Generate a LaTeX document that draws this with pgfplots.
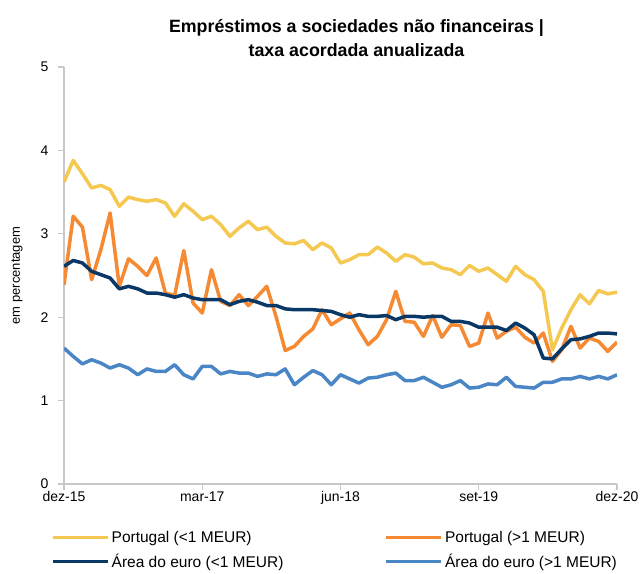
\documentclass[border=0pt]{standalone}
\usepackage{fontspec}
\setmainfont{Liberation Sans}
\usepackage{pgfplots}
\pgfplotsset{compat=1.18}
\definecolor{ptsmall}{HTML}{F5C851}
\definecolor{ptlarge}{HTML}{F58A33}
\definecolor{eusmall}{HTML}{0A3866}
\definecolor{eularge}{HTML}{4A86C5}
\definecolor{axgray}{HTML}{C8C8C8}

% x = months since dez-15
\pgfplotstableread{
x ptA ptB euA euB
0 3.62 2.39 2.61 1.63
1 3.88 3.21 2.68 1.53
2 3.72 3.08 2.65 1.44
3 3.55 2.45 2.55 1.49
4 3.58 2.81 2.51 1.45
5 3.53 3.25 2.47 1.39
6 3.33 2.37 2.34 1.43
7 3.44 2.70 2.37 1.39
8 3.41 2.61 2.34 1.31
9 3.39 2.50 2.29 1.38
10 3.41 2.71 2.29 1.35
11 3.37 2.29 2.27 1.35
12 3.21 2.26 2.24 1.43
13 3.36 2.80 2.27 1.31
14 3.27 2.17 2.23 1.26
15 3.17 2.05 2.21 1.41
16 3.21 2.57 2.21 1.41
17 3.11 2.19 2.21 1.32
18 2.97 2.14 2.15 1.35
19 3.07 2.27 2.19 1.33
20 3.15 2.14 2.21 1.33
21 3.05 2.25 2.18 1.29
22 3.08 2.37 2.14 1.32
23 2.97 2.01 2.14 1.31
24 2.89 1.60 2.10 1.38
25 2.88 1.65 2.09 1.19
26 2.92 1.77 2.09 1.28
27 2.81 1.86 2.09 1.36
28 2.89 2.09 2.08 1.31
29 2.83 1.91 2.07 1.19
30 2.65 1.98 2.03 1.31
31 2.69 2.05 2.00 1.26
32 2.75 1.85 2.03 1.21
33 2.75 1.67 2.01 1.27
34 2.84 1.77 2.01 1.28
35 2.77 1.97 2.02 1.31
36 2.67 2.31 1.97 1.33
37 2.75 1.95 2.01 1.24
38 2.72 1.94 2.01 1.24
39 2.64 1.77 2.00 1.28
40 2.65 2.02 2.01 1.22
41 2.59 1.76 2.01 1.16
42 2.57 1.91 1.95 1.19
43 2.51 1.90 1.95 1.24
44 2.62 1.65 1.93 1.15
45 2.55 1.69 1.88 1.16
46 2.59 2.05 1.88 1.20
47 2.51 1.75 1.88 1.19
48 2.43 1.83 1.84 1.28
49 2.61 1.88 1.93 1.17
50 2.51 1.76 1.87 1.16
51 2.45 1.69 1.79 1.15
52 2.31 1.81 1.51 1.22
53 1.61 1.47 1.50 1.22
54 1.87 1.61 1.62 1.26
55 2.09 1.89 1.73 1.26
56 2.27 1.63 1.74 1.29
57 2.16 1.75 1.77 1.26
58 2.32 1.71 1.81 1.29
59 2.28 1.59 1.81 1.26
60 2.30 1.70 1.80 1.31
}\rates

\begin{document}
\begin{tikzpicture}
\useasboundingbox (-64pt,-89pt) rectangle (578pt,484pt);
\begin{axis}[
  at={(0pt,0pt)}, anchor=origin,
  scale only axis,
  width=553pt, height=417pt,
  xmin=0, xmax=60, ymin=0, ymax=5,
  axis x line*=bottom, axis y line*=left,
  axis line style={axgray, line width=1.2pt},
  xtick={0,15,30,45,60},
  xticklabels={dez-15,mar-17,jun-18,set-19,dez-20},
  ytick={0,1,2,3,4,5},
  tick style={axgray, line width=1.2pt},
  tick align=outside,
  major tick length=6pt,
  ticklabel style={font=\fontsize{14}{16}\selectfont, text=black},
  /pgf/number format/assume math mode=true,
  xticklabel style={yshift=2pt},
  yticklabel style={xshift=-6pt},
  ylabel={em percentagem},
  ylabel style={font=\fontsize{13}{15}\selectfont, at={(axis description cs:0,0.5)}, anchor=center, yshift=47pt},
  title={Empréstimos a sociedades não financeiras |\\taxa acordada anualizada},
  title style={font=\bfseries\fontsize{17.8}{24}\selectfont, align=center, at={(axis description cs:0.5,1)}, anchor=south, xshift=16pt, yshift=1pt},
  legend columns=2,
  legend cell align=left,
  legend image code/.code={\draw[#1, line width=3.5pt] (0pt,0pt) -- (55pt,0pt);},
  legend style={draw=none, fill=none, font=\fontsize{15.5}{18}\selectfont,
    at={(axis description cs:0,0)}, anchor=north west, xshift=-16pt, yshift=-43pt,
    /tikz/every even column/.append style={column sep=99pt},
    row sep=6pt},
  every axis plot/.append style={line width=3.5pt, line join=round},
]
\addplot[ptsmall] table[x=x, y=ptA] {\rates};
\addlegendentry{Portugal (<1 MEUR)}
\addplot[ptlarge] table[x=x, y=ptB] {\rates};
\addlegendentry{Portugal (>1 MEUR)}
\addplot[eusmall] table[x=x, y=euA] {\rates};
\addlegendentry{Área do euro (<1 MEUR)}
\addplot[eularge] table[x=x, y=euB] {\rates};
\addlegendentry{Área do euro (>1 MEUR)}
\end{axis}
\end{tikzpicture}
\end{document}
